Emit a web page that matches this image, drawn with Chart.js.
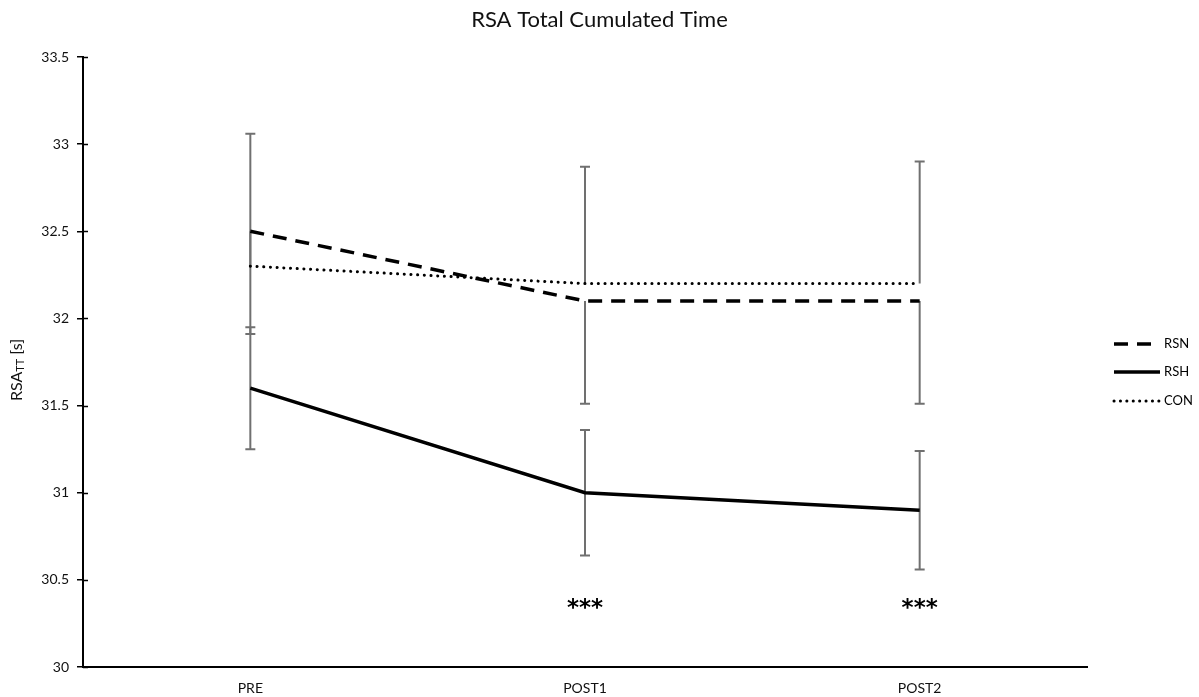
<!DOCTYPE html>
<html>
<head>
<meta charset="utf-8">
<title>RSA Total Cumulated Time</title>
<script src="https://cdn.jsdelivr.net/npm/chart.js@4/dist/chart.umd.min.js"></script>
<style>
  html, body { margin: 0; padding: 0; background: #fff; }
  #wrap { width: 1199px; height: 697px; position: relative; }
</style>
</head>
<body>
<div id="wrap"><canvas id="c"></canvas></div>
<script>
// Test sessions
const sessions = ['PRE', 'POST1', 'POST2'];

// Mean total cumulated time [s] per group
const rsnMean = [32.5, 32.1, 32.1];
const rshMean = [31.6, 31.0, 30.9];
const conMean = [32.3, 32.2, 32.2];

// Standard deviations (one-sided where only one whisker is drawn)
const rsnSdDown = [0.59, 0.59, 0.59];
const rsnSdUp = [0, 0, 0];
const rshSdDown = [0.35, 0.36, 0.34];
const rshSdUp = [0.35, 0.36, 0.34];
const conSdDown = [0, 0, 0];
const conSdUp = [0.76, 0.67, 0.70];

// Significance markers below each session
const sigMarks = ['', '***', '***'];
const sigLevel = 30.39;

// Y-axis range and step
const yMin = 30;
const yMax = 33.5;
const yStep = 0.5;

const chartTitle = 'RSA Total Cumulated Time';

const FONT = 'Lato, "Open Sans", "Liberation Sans", sans-serif';

// Error bars drawn through the y scale
const errorBars = {
  id: 'errorBars',
  beforeDatasetsDraw(chart) {
    const ctx = chart.ctx;
    const y = chart.scales.y;
    ctx.save();
    ctx.strokeStyle = '#707070';
    ctx.lineWidth = 2;
    chart.data.datasets.forEach((ds, i) => {
      const meta = chart.getDatasetMeta(i);
      meta.data.forEach((pt, j) => {
        const v = ds.data[j];
        const up = ds.sdUp[j], down = ds.sdDown[j];
        const yt = y.getPixelForValue(v + up);
        const yb = y.getPixelForValue(v - down);
        ctx.beginPath();
        ctx.moveTo(pt.x, yt);
        ctx.lineTo(pt.x, yb);
        if (up > 0) { ctx.moveTo(pt.x - 5, yt); ctx.lineTo(pt.x + 5, yt); }
        if (down > 0) { ctx.moveTo(pt.x - 5, yb); ctx.lineTo(pt.x + 5, yb); }
        ctx.stroke();
      });
    });
    ctx.restore();
  }
};

// Title, significance asterisks, y-axis title with subscript, inner tick marks, legend
const extras = {
  id: 'extras',
  afterDraw(chart) {
    const ctx = chart.ctx;
    const x = chart.scales.x;
    const y = chart.scales.y;
    const area = chart.chartArea;
    ctx.save();

    // title centred on the page
    ctx.fillStyle = '#111';
    ctx.font = '22px ' + FONT;
    ctx.textAlign = 'center';
    ctx.textBaseline = 'middle';
    ctx.fillText(chartTitle, chart.width / 2, 20);

    // inner half of the y ticks
    ctx.strokeStyle = '#000';
    ctx.lineWidth = 1.5;
    y.ticks.forEach((t) => {
      const py = Math.round(y.getPixelForValue(t.value)) + 0.5;
      ctx.beginPath();
      ctx.moveTo(area.left, py);
      ctx.lineTo(area.left + 5, py);
      ctx.stroke();
    });

    // asterisks
    ctx.fillStyle = '#000';
    ctx.font = 'bold 23px "DejaVu Sans", sans-serif';
    ctx.textAlign = 'center';
    ctx.textBaseline = 'middle';
    sigMarks.forEach((m, i) => {
      if (!m) return;
      ctx.fillText(m, x.getPixelForValue(i), y.getPixelForValue(sigLevel) + 10);
    });

    // y-axis title: RSA with subscript TT, then [s]
    ctx.save();
    ctx.translate(17, 370);
    ctx.rotate(-Math.PI / 2);
    ctx.textBaseline = 'middle';
    ctx.textAlign = 'left';
    ctx.fillStyle = '#111';
    const big = '16px ' + FONT;
    const small = '11px ' + FONT;
    ctx.font = big;
    const w1 = ctx.measureText('RSA').width;
    ctx.font = small;
    const w2 = ctx.measureText('TT').width;
    ctx.font = big;
    const w3 = ctx.measureText(' [s]').width;
    let cx = -(w1 + w2 + w3) / 2;
    ctx.font = big;
    ctx.fillText('RSA', cx, 0);
    cx += w1;
    ctx.font = small;
    ctx.fillText('TT', cx, 3);
    cx += w2;
    ctx.font = big;
    ctx.fillText(' [s]', cx, 0);
    ctx.restore();

    // legend
    const rows = [344, 372, 401];
    ctx.font = '13px ' + FONT;
    ctx.textAlign = 'left';
    ctx.textBaseline = 'middle';
    chart.data.datasets.forEach((ds, i) => {
      const ry = rows[i];
      ctx.save();
      ctx.strokeStyle = '#000';
      ctx.lineWidth = ds.borderWidth;
      ctx.setLineDash(ds.legendDash);
      ctx.lineCap = ds.borderCapStyle;
      ctx.beginPath();
      ctx.moveTo(1114, ry);
      ctx.lineTo(1160, ry);
      ctx.stroke();
      ctx.restore();
      ctx.fillStyle = '#000';
      ctx.fillText(ds.label, 1164, ry);
    });

    ctx.restore();
  }
};

new Chart(document.getElementById('c'), {
  type: 'line',
  data: {
    labels: sessions,
    datasets: [
      {
        label: 'RSN',
        data: rsnMean,
        sdUp: rsnSdUp,
        sdDown: rsnSdDown,
        borderColor: '#000',
        borderWidth: 3.5,
        borderDash: [14, 9],
        legendDash: [14, 9],
        borderCapStyle: 'butt',
        pointRadius: 0,
        tension: 0
      },
      {
        label: 'RSH',
        data: rshMean,
        sdUp: rshSdUp,
        sdDown: rshSdDown,
        borderColor: '#000',
        borderWidth: 3.5,
        borderDash: [],
        legendDash: [],
        borderCapStyle: 'butt',
        pointRadius: 0,
        tension: 0
      },
      {
        label: 'CON',
        data: conMean,
        sdUp: conSdUp,
        sdDown: conSdDown,
        borderColor: '#000',
        borderWidth: 3,
        borderDash: [0.1, 6.6],
        legendDash: [0.1, 6.3],
        borderCapStyle: 'round',
        pointRadius: 0,
        tension: 0
      }
    ]
  },
  options: {
    responsive: true,
    maintainAspectRatio: false,
    animation: false,
    layout: { padding: { left: 0, right: 112, top: 57, bottom: 0 } },
    plugins: {
      legend: { display: false },
      tooltip: { enabled: false },
      title: { display: false }
    },
    scales: {
      x: {
        offset: true,
        grid: { display: false, drawTicks: false },
        border: { display: true, color: '#000', width: 2 },
        ticks: {
          color: '#111',
          padding: 13,
          font: { family: FONT, size: 14 }
        },
        afterFit(scale) { scale.height = 30; }
      },
      y: {
        min: yMin,
        max: yMax,
        grid: { display: true, drawOnChartArea: false, drawTicks: true, tickLength: 6, color: '#000', lineWidth: 1.5 },
        border: { display: true, color: '#000', width: 2 },
        ticks: {
          stepSize: yStep,
          color: '#111',
          padding: 8,
          font: { family: FONT, size: 14 },
          callback: (v) => String(v)
        },
        afterFit(scale) { scale.width = 83; }
      }
    }
  },
  plugins: [errorBars, extras]
});
</script>
</body>
</html>
